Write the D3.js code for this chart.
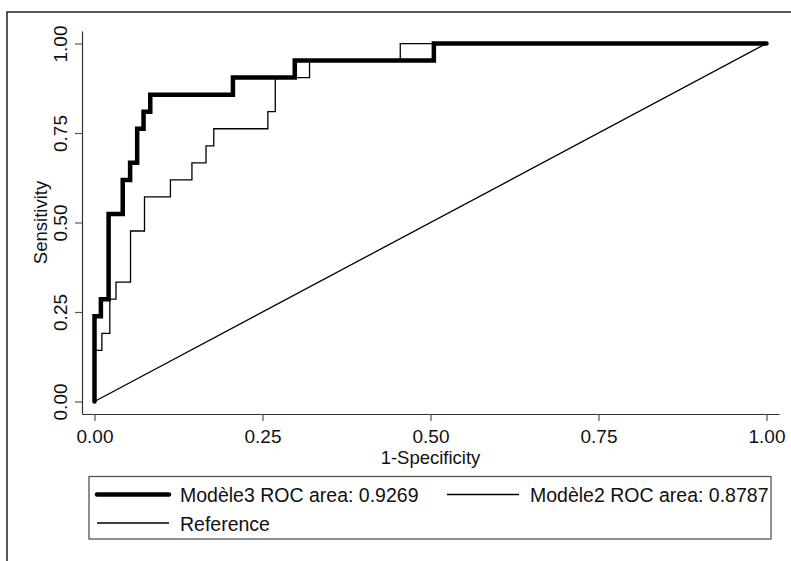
<!DOCTYPE html>
<html>
<head>
<meta charset="utf-8">
<script src="https://cdn.jsdelivr.net/npm/d3@7"></script>
<style>
  html, body { margin: 0; padding: 0; background: #fff; }
  svg { display: block; font-family: "Liberation Sans", Arial, sans-serif; }
</style>
</head>
<body>
<div id="chart"></div>
<script>
// ROC vertices (1-specificity, sensitivity)
const model3Fpr = [0, 0, 0.0095, 0.021, 0.042, 0.053, 0.0635, 0.073, 0.083, 0.206, 0.298, 0.505, 1];
const model3Tpr = [0, 0.2381, 0.2857, 0.5238, 0.619, 0.6667, 0.7619, 0.8095, 0.8571, 0.9048, 0.9524, 1, 1];

const model2Fpr = [0, 0, 0.011, 0.0228, 0.032, 0.0536, 0.0744, 0.113, 0.145, 0.166, 0.1775, 0.258, 0.269, 0.32, 0.455, 1];
const model2Tpr = [0, 0.1429, 0.1905, 0.2857, 0.3333, 0.4762, 0.5714, 0.619, 0.6667, 0.7143, 0.7619, 0.8095, 0.9048, 0.9524, 1, 1];

const referenceFpr = [0, 1];
const referenceTpr = [0, 1];

const tickValues = [0, 0.25, 0.5, 0.75, 1];
const legendLabels = ['Modèle3 ROC area: 0.9269', 'Modèle2 ROC area: 0.8787', 'Reference'];
const xTitle = '1-Specificity';
const yTitle = 'Sensitivity';

const width = 791, height = 561;

const svg = d3.select('#chart').append('svg')
  .attr('width', width)
  .attr('height', height);

// outer graph frame (runs off the right and bottom edge)
svg.append('rect')
  .attr('x', 7).attr('y', 12)
  .attr('width', 900).attr('height', 700)
  .attr('fill', 'none')
  .attr('stroke', '#000')
  .attr('stroke-width', 1.3);

// scales, padded a little beyond [0,1] like Stata does
const x = d3.scaleLinear().domain([-0.0186, 1.0186]).range([82, 779]);
const y = d3.scaleLinear().domain([-0.035, 1.035]).range([414, 31]);

const fmt = d3.format('.2f');

// x axis
const gx = svg.append('g')
  .attr('transform', `translate(0, ${y.range()[0]})`)
  .call(d3.axisBottom(x).tickValues(tickValues).tickFormat(fmt).tickSize(7).tickSizeOuter(0));
gx.select('.domain').attr('stroke', '#333').attr('stroke-width', 1.2);
gx.selectAll('.tick line').attr('stroke', '#555').attr('stroke-width', 1.2);
gx.selectAll('.tick text')
  .attr('y', 29).attr('dy', 0)
  .attr('font-size', 19)
  .attr('fill', '#111');

// y axis
const gy = svg.append('g')
  .attr('transform', `translate(${x.range()[0]}, 0)`)
  .call(d3.axisLeft(y).tickValues(tickValues).tickFormat(fmt).tickSize(7).tickSizeOuter(0));
gy.select('.domain').attr('stroke', '#333').attr('stroke-width', 1.2);
gy.selectAll('.tick line').attr('stroke', '#555').attr('stroke-width', 1.2);
gy.selectAll('.tick text')
  .attr('x', 0).attr('dy', 0)
  .attr('transform', 'translate(-15,0) rotate(-90)')
  .attr('text-anchor', 'middle')
  .attr('font-size', 19)
  .attr('fill', '#111');

// axis titles
svg.append('text')
  .attr('x', x(0.5)).attr('y', 464)
  .attr('text-anchor', 'middle')
  .attr('font-size', 18.5)
  .attr('fill', '#111')
  .text(xTitle);

svg.append('text')
  .attr('transform', `translate(47, ${y(0.5)}) rotate(-90)`)
  .attr('text-anchor', 'middle')
  .attr('font-size', 18.5)
  .attr('fill', '#111')
  .text(yTitle);

// curves
const stepLine = d3.line()
  .x(d => x(d[0]))
  .y(d => y(d[1]))
  .curve(d3.curveStepAfter);
const straight = d3.line()
  .x(d => x(d[0]))
  .y(d => y(d[1]));

const model3 = d3.zip(model3Fpr, model3Tpr);
const model2 = d3.zip(model2Fpr, model2Tpr);
const reference = d3.zip(referenceFpr, referenceTpr);

svg.append('path')
  .attr('d', stepLine(model3))
  .attr('fill', 'none')
  .attr('stroke', '#000')
  .attr('stroke-width', 4.5)
  .attr('stroke-linecap', 'round')
  .attr('stroke-linejoin', 'miter');

svg.append('path')
  .attr('d', stepLine(model2))
  .attr('fill', 'none')
  .attr('stroke', '#000')
  .attr('stroke-width', 1.3);

svg.append('path')
  .attr('d', straight(reference))
  .attr('fill', 'none')
  .attr('stroke', '#000')
  .attr('stroke-width', 1.3);

// legend
const legend = svg.append('g').attr('class', 'legend');
legend.append('rect')
  .attr('x', 89).attr('y', 476.5)
  .attr('width', 682).attr('height', 62.5)
  .attr('fill', '#fff')
  .attr('stroke', '#555')
  .attr('stroke-width', 1.3);

const legendItems = [
  { label: legendLabels[0], x: 97, y: 494.5, w: 4.5 },
  { label: legendLabels[1], x: 447, y: 494.5, w: 1.3 },
  { label: legendLabels[2], x: 97, y: 523, w: 1.3 }
];

legend.selectAll('line.key')
  .data(legendItems)
  .join('line')
  .attr('class', 'key')
  .attr('x1', d => d.x).attr('x2', d => d.x + 72)
  .attr('y1', d => d.y).attr('y2', d => d.y)
  .attr('stroke', '#000')
  .attr('stroke-width', d => d.w)
  .attr('stroke-linecap', d => d.w > 2 ? 'round' : 'butt');

legend.selectAll('text.key-label')
  .data(legendItems)
  .join('text')
  .attr('class', 'key-label')
  .attr('x', d => d.x + 83)
  .attr('y', d => d.y + 7.5)
  .attr('font-size', 19.5)
  .attr('fill', '#111')
  .text(d => d.label);
</script>
</body>
</html>
